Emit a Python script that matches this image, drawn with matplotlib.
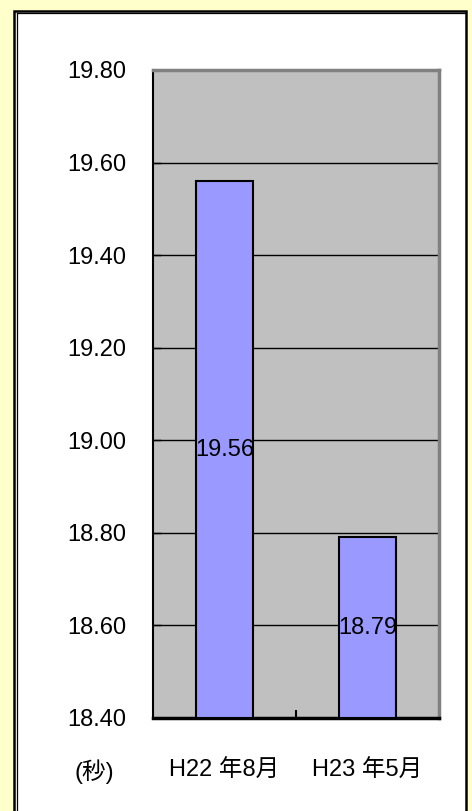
import matplotlib
matplotlib.use("Agg")
import matplotlib.pyplot as plt
from matplotlib.patches import Rectangle
from matplotlib.lines import Line2D
from matplotlib.ticker import FixedLocator

categories = ["H22 年8月", "H23 年5月"]
values = [19.56, 18.79]
value_labels = ["19.56", "18.79"]
yticks = [18.40, 18.60, 18.80, 19.00, 19.20, 19.40, 19.60, 19.80]
ytick_labels = ["18.40", "18.60", "18.80", "19.00", "19.20", "19.40", "19.60", "19.80"]
unit_label = "(秒)"

FONT = ["Liberation Sans", "Noto Sans CJK JP", "DejaVu Sans"]
plt.rcParams["font.family"] = FONT

W, H = 472, 811
fig = plt.figure(figsize=(W / 100, H / 100), dpi=100)
fig.patch.set_facecolor("#FFFFCC")

def fx(px):
    return px / W

def fy(py):
    return 1 - py / H

# white frame with black border
frame = Rectangle((fx(13.5), fy(830)), fx(466) - fx(13.5), fy(10.5) - fy(830),
                  transform=fig.transFigure, facecolor="white", edgecolor="black",
                  linewidth=1.8, zorder=-3)
fig.patches.append(frame)
fig.lines.append(Line2D([fx(16.5), fx(16.5)], [fy(13), fy(830)], transform=fig.transFigure,
                        color="black", linewidth=0.9, zorder=-2))
fig.lines.append(Line2D([fx(16.5), fx(465)], [fy(13), fy(13)], transform=fig.transFigure,
                        color="black", linewidth=0.9, zorder=-2))

left, right, top, bottom = 153, 439, 70, 718
ax = fig.add_axes([fx(left), fy(bottom), fx(right) - fx(left), fy(top) - fy(bottom)])
ax.set_zorder(2)
ax.set_facecolor("#C0C0C0")

x = list(range(len(categories)))
ymin, ymax = yticks[0], yticks[-1]
bars = ax.bar(x, [v - ymin for v in values], bottom=ymin, width=0.4, color="#9999FF",
              edgecolor="black", linewidth=1.5, zorder=3)
for xi, v, lab in zip(x, values, value_labels):
    ax.text(xi, (v + ymin) / 2, lab, ha="center", va="center", fontsize=17,
            color="black", zorder=4)

ax.set_xlim(-0.5, len(categories) - 0.5)
ax.set_ylim(ymin, ymax)
ax.set_yticks(yticks)
ax.set_yticklabels(ytick_labels, fontsize=17)
ax.set_xticks(x)
ax.set_xticklabels(categories, fontsize=17)
ax.xaxis.set_minor_locator(FixedLocator([0.5]))
ax.tick_params(axis="y", direction="in", length=6, width=1, pad=19, colors="black")
ax.tick_params(axis="x", which="major", length=0, pad=30)
ax.tick_params(axis="x", which="minor", direction="in", length=6, width=1.5)
ax.grid(axis="y", color="black", linewidth=1, zorder=1)
ax.set_axisbelow(True)

ax.spines["left"].set_color("black")
ax.spines["left"].set_linewidth(1.5)
ax.spines["bottom"].set_color("black")
ax.spines["bottom"].set_linewidth(2.5)
for s in ("top", "right"):
    ax.spines[s].set_color("#808080")
    ax.spines[s].set_linewidth(2.5)

fig.text(fx(94), fy(772), unit_label, ha="center", va="center", fontsize=17, zorder=3)

fig.savefig("out.png", dpi=100, facecolor=fig.get_facecolor())
